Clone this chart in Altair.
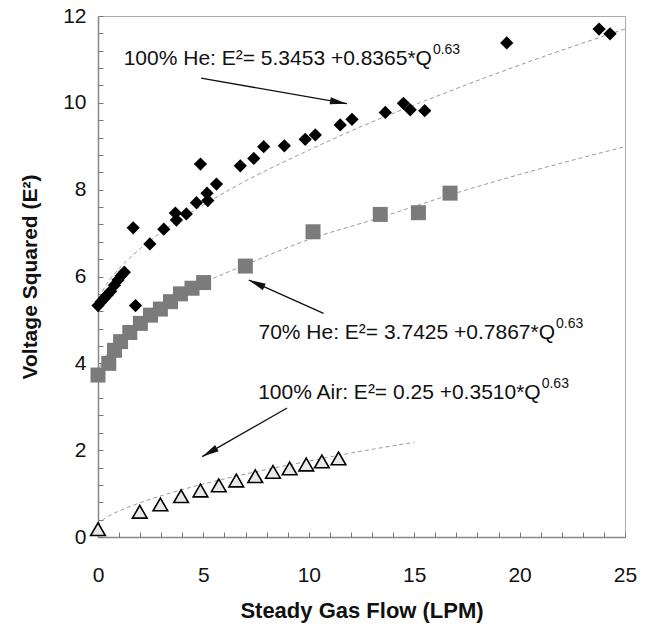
import altair as alt
import pandas as pd

# ---------------- data ----------------
# 100% He (black diamonds)
he_q = [0.0, 0.15, 0.3, 0.45, 0.6, 0.78, 0.95, 1.1, 1.25, 1.67, 1.78, 2.46, 3.12,
        3.67, 3.72, 4.19, 4.67, 4.86, 5.17, 5.21, 5.62, 6.75, 7.39, 7.86, 8.84,
        9.83, 10.31, 11.49, 12.05, 13.63, 14.49, 14.81, 15.50, 19.39, 23.77, 24.29]
he_e2 = [5.33, 5.42, 5.50, 5.58, 5.66, 5.80, 5.92, 6.02, 6.10, 7.12, 5.33, 6.75, 7.09,
         7.46, 7.30, 7.44, 7.70, 8.59, 7.92, 7.75, 8.13, 8.55, 8.72, 8.99, 9.01,
         9.16, 9.26, 9.49, 9.62, 9.78, 9.99, 9.84, 9.82, 11.38, 11.70, 11.59]

# 70% He (grey squares)
sq_q = [0.0, 0.51, 0.78, 1.07, 1.51, 2.01, 2.49, 2.96, 3.44, 3.91, 4.46, 5.01,
        6.99, 10.2, 13.39, 15.2, 16.7]
sq_e2 = [3.73, 4.00, 4.30, 4.50, 4.71, 4.92, 5.11, 5.25, 5.42, 5.60, 5.73, 5.86,
         6.24, 7.03, 7.43, 7.47, 7.92]

# 100% Air (open triangles)
air_q = [0.0, 1.98, 2.96, 3.94, 4.86, 5.73, 6.56, 7.46, 8.30, 9.09, 9.88, 10.62, 11.41]
air_e2 = [0.18, 0.58, 0.75, 0.94, 1.07, 1.19, 1.30, 1.40, 1.50, 1.58, 1.67, 1.74, 1.81]

# fitted curves (dashed)
fit_he_q = [0, 0.1, 0.25, 0.5, 1, 2, 3, 5, 7, 10, 13, 16, 20, 25]
fit_he_e2 = [5.35, 5.54, 5.69, 5.89, 6.18, 6.64, 7.02, 7.65, 8.20, 8.91, 9.56, 10.14, 10.87, 11.70]
fit_70_q = [0, 0.1, 0.25, 0.5, 1, 2, 3, 5, 7, 10, 13.4, 16.7, 20, 25]
fit_70_e2 = [3.74, 3.92, 4.07, 4.25, 4.53, 4.96, 5.30, 5.85, 6.27, 6.85, 7.36, 7.88, 8.35, 8.99]
fit_air_q = [0, 0.1, 0.25, 0.5, 1, 2, 3, 5, 7, 10, 13, 15]
fit_air_e2 = [0.25, 0.33, 0.40, 0.48, 0.60, 0.79, 0.95, 1.22, 1.45, 1.75, 2.02, 2.18]

# annotations
ann_text = ["100% He: E\u00b2= 5.3453 +0.8365*Q",
            "70% He: E\u00b2= 3.7425 +0.7867*Q",
            "100% Air: E\u00b2= 0.25 +0.3510*Q"]
ann_sup = ["0.63", "0.63", "0.63"]
ann_q = [15.84, 21.68, 21.0]
ann_e2 = [10.86, 4.57, 3.17]

# arrows (tail -> head)
arr_q = [4.89, 10.70, 8.97]
arr_e2 = [10.57, 5.15, 2.97]
arr_q2 = [11.81, 7.15, 4.94]
arr_e22 = [9.98, 5.92, 1.85]
arr_angle = [100, 294, 240]

x_labels = [0, 5, 10, 15, 20, 25]
y_labels = [0, 2, 4, 6, 8, 10, 12]
x_minor = list(range(0, 26))
y_minor = [round(i * 0.4, 1) for i in range(0, 31)]

# ---------------- chart ----------------
W, H = 527, 521
FONT = "Liberation Sans"

he = pd.DataFrame({"Q": he_q, "E2": he_e2})
sq = pd.DataFrame({"Q": sq_q, "E2": sq_e2})
air = pd.DataFrame({"Q": air_q, "E2": air_e2})
fhe = pd.DataFrame({"Q": fit_he_q, "E2": fit_he_e2})
f70 = pd.DataFrame({"Q": fit_70_q, "E2": fit_70_e2})
fair = pd.DataFrame({"Q": fit_air_q, "E2": fit_air_e2})
ann = pd.DataFrame({"Q": ann_q, "E2": ann_e2, "t": ann_text, "s": ann_sup})
arr = pd.DataFrame({"Q": arr_q, "E2": arr_e2, "Q2": arr_q2, "E22": arr_e22, "a": arr_angle})

xs = alt.Scale(domain=[0, 25], nice=False, zero=False)
ys = alt.Scale(domain=[0, 12], nice=False, zero=False)


def X(axis=None):
    return alt.X("Q:Q", scale=xs, axis=axis)


def Y(axis=None):
    return alt.Y("E2:Q", scale=ys, axis=axis)


main_x_axis = alt.Axis(values=x_labels, ticks=False, tickSize=0, grid=False,
                       labelFlush=False, labelOverlap=False, labelPadding=27,
                       labelFont=FONT, labelFontSize=21, labelColor="#111",
                       domainColor="#888", domainWidth=1.5,
                       title="Steady Gas Flow (LPM)", titleFont=FONT,
                       titleFontSize=22, titleFontWeight="bold", titleColor="#111",
                       titlePadding=15)
main_y_axis = alt.Axis(values=y_labels, ticks=False, tickSize=0, grid=False,
                       labelFlush=False, labelOverlap=False, labelPadding=12,
                       labelFont=FONT, labelFontSize=21, labelColor="#111",
                       domainColor="#888", domainWidth=1.5,
                       title="Voltage Squared (E\u00b2)", titleFont=FONT,
                       titleFontSize=21, titleFontWeight="bold", titleColor="#111",
                       titlePadding=22)
tick_x_axis = alt.Axis(orient="top", offset=-H, values=x_minor, labels=False,
                       domain=False, ticks=True, tickSize=5, tickColor="#777",
                       tickWidth=1, grid=False, title=None)
tick_y_axis = alt.Axis(orient="right", offset=-W, values=y_minor, labels=False,
                       domain=False, ticks=True, tickSize=5, tickColor="#777",
                       tickWidth=1, grid=False, title=None)

dash = dict(strokeDash=[4, 3], color="#9a9a9a", strokeWidth=1, interpolate="monotone")

l_fhe = alt.Chart(fhe).mark_line(**dash).encode(x=X(main_x_axis), y=Y(main_y_axis))
l_f70 = alt.Chart(f70).mark_line(**dash).encode(x=X(), y=Y())
l_fair = alt.Chart(fair).mark_line(**dash).encode(x=X(tick_x_axis), y=Y(tick_y_axis))

p_he = alt.Chart(he).mark_point(shape="diamond", filled=True, color="#000",
                                size=175, opacity=1).encode(x=X(), y=Y())
p_sq = alt.Chart(sq).mark_point(shape="square", filled=True, color="#7b7b7b",
                                size=225, opacity=1).encode(x=X(), y=Y())
p_air = alt.Chart(air).mark_point(shape="triangle-up", filled=True, fill="#e8e8e8",
                                  stroke="#000", strokeWidth=1.6, size=215,
                                  opacity=1).encode(x=X(), y=Y())

t_main = alt.Chart(ann).mark_text(align="right", baseline="alphabetic", font=FONT,
                                  fontSize=21, color="#111").encode(
    x=X(), y=Y(), text="t:N")
t_sup = alt.Chart(ann).mark_text(align="left", baseline="alphabetic", font=FONT,
                                 fontSize=14, color="#111", dx=1, dy=-11).encode(
    x=X(), y=Y(), text="s:N")

a_line = alt.Chart(arr).mark_rule(color="#111", strokeWidth=1.3).encode(
    x=X(), y=Y(), x2="Q2:Q", y2="E22:Q")
a_head = alt.Chart(arr).mark_point(shape="M0,0L0.42,2L-0.42,2Z", filled=True,
                                   color="#111", size=289, opacity=1).encode(
    x=alt.X("Q2:Q", scale=xs, axis=None), y=alt.Y("E22:Q", scale=ys, axis=None),
    angle=alt.Angle("a:Q", scale=None))

chart = alt.layer(
    l_fhe, l_f70, l_fair, p_sq, p_he, p_air, t_main, t_sup, a_line, a_head
).resolve_axis(x="independent", y="independent").properties(
    width=W, height=H,
    autosize=alt.AutoSizeParams(type="none"),
    padding={"left": 90, "top": 8, "right": 20, "bottom": 95},
    background="white",
).configure_view(stroke="#aaa", strokeWidth=1)

chart.save("out.html", embed_options={"renderer": "svg", "actions": False})
